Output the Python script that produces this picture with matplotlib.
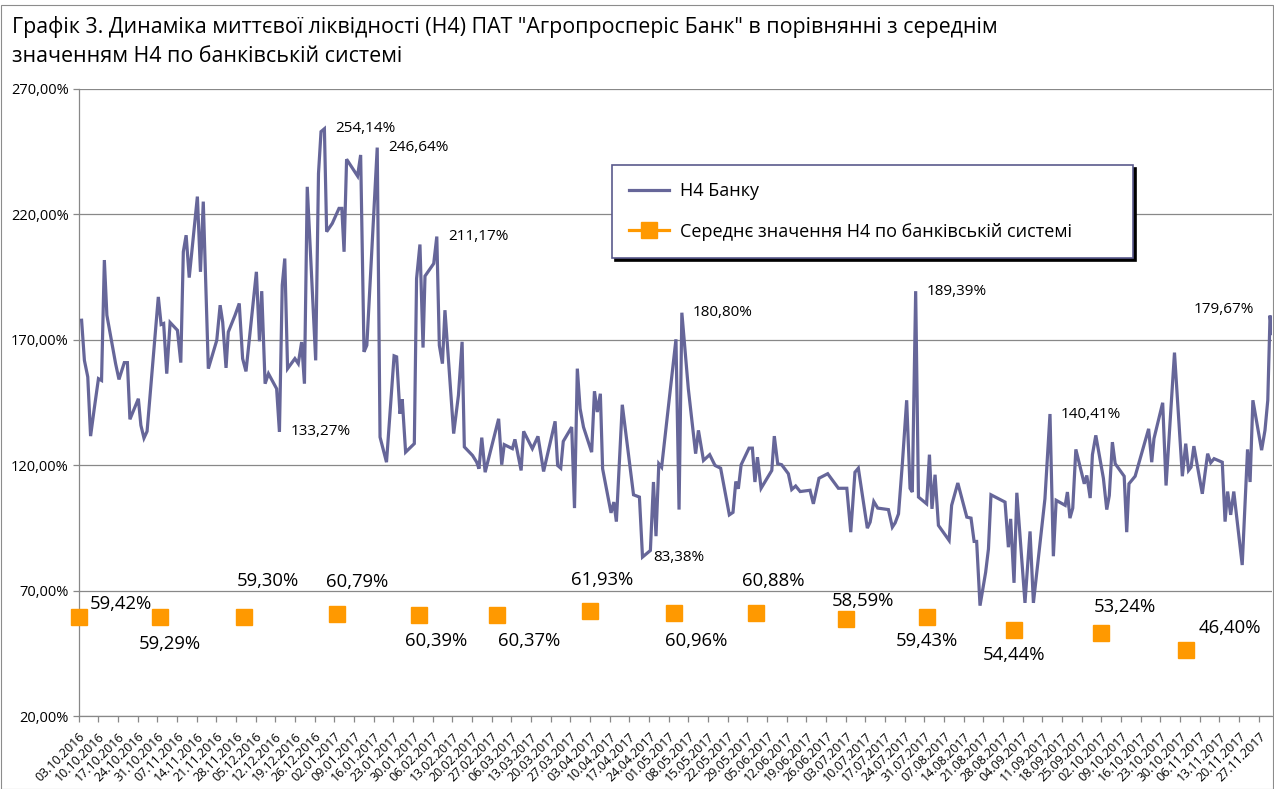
import numpy as np
import pandas as pd
import matplotlib
matplotlib.use("Agg")
import matplotlib.pyplot as plt
from matplotlib.lines import Line2D
from matplotlib.patches import Rectangle

plt.rcParams["font.family"] = ["Open Sans", "DejaVu Sans"]

START = pd.Timestamp("2016-10-03")

# H4 of the bank: days since 03.10.2016 and value, %
h4_days = [
    1.1, 2.1, 3.3, 4.3, 5.6, 7.1, 8.2, 9.2, 10.1, 11.8, 13.2, 14.4, 16.3, 17.4, 18.3,
    21.3, 22.2, 23.3, 24.4, 28.4, 29.4, 30.3, 31.4, 32.6, 35.2, 36.4, 37.3, 38.3, 39.4,
    42.3, 43.4, 44.4, 46.2, 49.2, 50.4, 51.3, 52.5, 53.3, 55.7, 57.2, 58.4, 59.6, 63.3,
    64.4, 65.2, 66.4, 67.6, 70.5, 71.5, 72.5, 73.4, 74.4, 77.0, 78.2, 79.4, 80.4, 81.4,
    84.4, 85.4, 86.3, 87.5, 88.3, 90.3, 92.7, 93.7, 94.5, 95.4, 99.3, 100.4, 101.6, 102.6,
    106.3, 107.3, 109.6, 112.3, 113.2, 114.4, 115.2, 116.4, 119.5, 120.3, 121.5, 122.6,
    123.3, 126.4, 127.5, 128.4, 129.5, 130.4, 133.5, 135.2, 136.5, 137.3, 140.2, 141.7,
    142.5, 143.5, 144.7, 149.5, 150.6, 151.5, 154.4, 155.3, 157.5, 158.4, 161.5, 163.5,
    165.5, 169.6, 170.5, 171.6, 172.5, 175.5, 176.5, 177.5, 178.5, 179.7, 182.6, 183.6,
    184.6, 185.7, 186.5, 189.5, 190.5, 191.4, 193.5, 197.5, 199.6, 200.7, 203.5, 204.6,
    205.5, 206.5, 207.5, 212.6, 213.7, 214.7, 217.0, 219.6, 220.6, 222.4, 224.6, 226.5,
    228.5, 231.6, 232.9, 233.9, 234.8, 235.8, 238.6, 239.8, 240.7, 241.6, 242.9, 246.7,
    247.6, 248.8, 250.2, 252.6, 253.8, 255.2, 256.8, 260.3, 261.5, 263.5, 266.6, 270.4,
    273.4, 274.8, 276.3, 277.5, 280.7, 281.7, 283.0, 284.4, 288.2, 289.6, 290.6, 291.8,
    293.2, 294.7, 295.9, 296.7, 297.9, 298.9, 301.8, 302.8, 303.7, 304.8, 306.0, 309.8,
    310.7, 312.9, 316.1, 317.6, 318.7, 319.6, 320.8, 322.8, 323.8, 324.7, 329.7, 330.9,
    331.7, 332.9, 333.9, 336.8, 338.6, 339.8, 343.9, 345.7, 346.9, 347.9, 351.1, 351.9,
    352.8, 353.8, 354.9, 357.9, 358.8, 360.0, 360.8, 362.0, 364.7, 365.9, 366.8, 367.9,
    368.9, 372.1, 373.0, 373.8, 376.0, 380.8, 381.9, 382.7, 385.8, 387.0, 390.0, 392.8,
    394.0, 395.0, 395.9, 396.9, 399.9, 401.8, 402.9, 404.1, 407.0, 408.0, 408.9, 410.0,
    411.1, 414.1, 416.0, 416.9, 417.9, 421.0, 422.2, 423.2, 424.0, 424.7,
]
h4_values = [
    177.8, 161.8, 155.2, 131.6, 142.5, 154.5, 153.8, 201.8, 179.8, 169.2, 160.5, 154.2, 160.9, 160.9, 138.3,
    146.5, 135.9, 130.8, 133.5, 187.1, 176.1, 176.5, 156.5, 176.9, 173.8, 160.9, 205.1, 211.7, 194.8,
    227.1, 197.1, 225.1, 158.5, 169.8, 183.8, 177.1, 158.8, 173.1, 179.8, 184.5, 162.5, 157.4, 197.1,
    169.4, 189.4, 152.5, 156.5, 150.5, 133.27, 191.8, 202.4, 158.5, 162.5, 160.5, 169.1, 152.5, 231.0,
    161.8, 236.3, 253.0, 254.14, 213.1, 216.4, 222.4, 222.4, 205.1, 242.0, 235.3, 243.7, 165.2, 167.8,
    246.64, 131.2, 121.2, 163.6, 163.2, 140.5, 146.3, 125.2, 128.6, 194.4, 208.0, 166.9,
    195.4, 200.4, 211.17, 167.8, 160.5, 181.8, 132.6, 147.9, 169.2, 127.3, 123.9, 121.2,
    118.6, 131.0, 117.2, 138.5, 120.2, 128.2, 126.6, 130.3, 117.9, 133.5, 126.6, 131.5,
    117.5, 137.5, 119.9, 118.8, 129.5, 135.2, 102.9, 158.5, 142.5, 135.2, 125.2, 149.5,
    141.2, 148.5, 118.6, 101.0, 105.3, 97.5, 144.1, 108.2, 107.3, 83.38, 86.0, 113.3,
    91.7, 120.6, 119.2, 170.2, 102.3, 180.80, 150.5, 124.6, 133.9, 121.9, 124.2, 119.9,
    118.8, 100.2, 101.2, 113.5, 110.6, 120.2, 126.8, 126.8, 113.3, 123.2, 110.8, 117.9,
    131.6, 120.6, 120.2, 116.6, 110.3, 111.7, 109.5, 110.0, 104.6, 114.8, 116.6, 110.8,
    110.8, 93.3, 117.2, 118.8, 94.9, 97.3, 105.5, 102.9, 102.3, 95.3, 97.0, 100.6,
    121.2, 145.9, 110.8, 109.3, 189.39, 107.3, 104.6, 124.2, 102.6, 116.2, 96.0, 90.0,
    104.0, 112.9, 99.3, 98.9, 89.6, 89.6, 64.0, 77.3, 86.6, 108.2, 105.3, 87.3,
    98.6, 73.1, 109.0, 65.1, 93.6, 65.1, 106.6, 140.41, 83.7, 106.0, 104.0, 109.3,
    98.9, 102.9, 126.3, 112.6, 115.9, 106.9, 124.2, 131.9, 114.8, 102.3, 107.9, 129.2,
    120.6, 115.6, 93.3, 112.6, 115.6, 134.5, 121.2, 130.6, 144.9, 111.9, 164.9, 115.6,
    128.6, 117.9, 119.2, 127.6, 108.6, 124.6, 121.0, 122.6, 121.2, 97.5, 109.5, 100.2,
    109.5, 80.2, 126.3, 113.3, 145.9, 126.0, 133.9, 145.9, 179.67, 172.5,
]
# labelled extremes of the H4 line
peak_values = [254.14, 246.64, 133.27, 211.17, 180.80, 83.38, 189.39, 140.41, 179.67]

# monthly average of H4 in the banking system
avg_days = [0, 29, 59, 92, 121, 149, 182, 212, 241, 273, 302, 333, 364, 394]
avg_values = [59.42, 59.29, 59.30, 60.79, 60.39, 60.37, 61.93, 60.96, 60.88, 58.59,
              59.43, 54.44, 53.24, 46.40]
avg_label_offsets = [(42, 13), (10, -27), (24, 36), (20, 32), (18, -26), (32, -26), (12, 31),
                     (22, -28), (17, 32), (17, 18), (0, -24), (0, -25), (23, 26), (44, 22)]

y_ticks = [20, 70, 120, 170, 220, 270]
tick_dates = pd.date_range("2016-10-03", "2017-11-27", freq="7D")

LINE_C = "#666699"
ORANGE = "#FF9900"
GRID_C = "#888888"


def pct(v):
    return f"{v:.2f}%".replace(".", ",")


W, H = 1274, 789
fig = plt.figure(figsize=(W / 100, H / 100), dpi=100)
fig.patches.append(Rectangle((0.5 / W, 0.5 / H), 1 - 2 / W, 1 - 5 / H, transform=fig.transFigure,
                             fill=False, edgecolor="#8c8c8c", linewidth=0.8))

ax = fig.add_axes([78.5 / W, 1 - 716 / H, (1272 - 78.5) / W, (716 - 89) / H])

h4_dates = START + pd.to_timedelta(h4_days, unit="D")
avg_dates = START + pd.to_timedelta(avg_days, unit="D")

ax.plot(h4_dates, h4_values, color=LINE_C, linewidth=2.3, solid_joinstyle="miter", zorder=3)
ax.plot(avg_dates, avg_values, linestyle="none", marker="s", markersize=11.5,
        color=ORANGE, markeredgecolor=ORANGE, zorder=4, clip_on=False)

# labels of the extremes
for pv in peak_values:
    i = h4_values.index(pv)
    if i == len(h4_values) - 2:
        ax.annotate(pct(pv), (h4_dates[i], pv), xytext=(-16, 6), textcoords="offset pixels",
                    ha="right", va="center", fontsize=11)
    else:
        ax.annotate(pct(pv), (h4_dates[i], pv), xytext=(11, 0), textcoords="offset pixels",
                    ha="left", va="center", fontsize=11)

for d, v, off in zip(avg_dates, avg_values, avg_label_offsets):
    ax.annotate(pct(v), (d, v), xytext=off, textcoords="offset pixels",
                ha="center", va="center", fontsize=13.3)

ax.set_xlim(START, START + pd.Timedelta(days=424.7))
ax.set_ylim(20, 270)
ax.set_yticks(y_ticks)
ax.set_yticklabels([pct(v) for v in y_ticks], fontsize=10.5)
ax.set_xticks(tick_dates)
ax.set_xticklabels([d.strftime("%d.%m.%Y") for d in tick_dates], rotation=45,
                   ha="right", va="top", rotation_mode="anchor", fontsize=9)
ax.grid(axis="y", color=GRID_C, linewidth=0.9)
ax.set_axisbelow(True)
for s in ("top", "right"):
    ax.spines[s].set_visible(False)
for s in ("left", "bottom"):
    ax.spines[s].set_color(GRID_C)
    ax.spines[s].set_linewidth(0.9)
ax.tick_params(axis="both", direction="out", length=4, color=GRID_C, width=0.9, pad=3)
ax.tick_params(axis="x", pad=6)

fig.text(12 / W, 1 - 27 / H, "Графік 3. Динаміка миттєвої ліквідності (Н4) ПАТ \"Агропросперіс Банк\" в порівнянні з середнім",
         fontsize=15.4, va="center", ha="left")
fig.text(12 / W, 1 - 57 / H, "значенням Н4 по банківській системі",
         fontsize=15.4, va="center", ha="left")

handles = [Line2D([], [], color=LINE_C, linewidth=2.3),
           Line2D([], [], color=ORANGE, linewidth=2.3, marker="s", markersize=11.5)]
leg = fig.legend(handles, ["Н4 Банку", "Середнє значення Н4 по банківській системі"],
                 loc="upper left", bbox_to_anchor=(612 / W, 1 - 257 / H, (1133 - 612) / W, (257 - 165) / H),
                 mode="expand", fontsize=13, frameon=True, fancybox=False,
                 shadow={"color": "black", "alpha": 1}, edgecolor="#5a5a8c",
                 handlelength=2.2, handletextpad=0.6, labelspacing=1.25, borderpad=0.95,
                 borderaxespad=0)
leg.get_frame().set_linewidth(1.2)

fig.savefig("out.png", dpi=100)
